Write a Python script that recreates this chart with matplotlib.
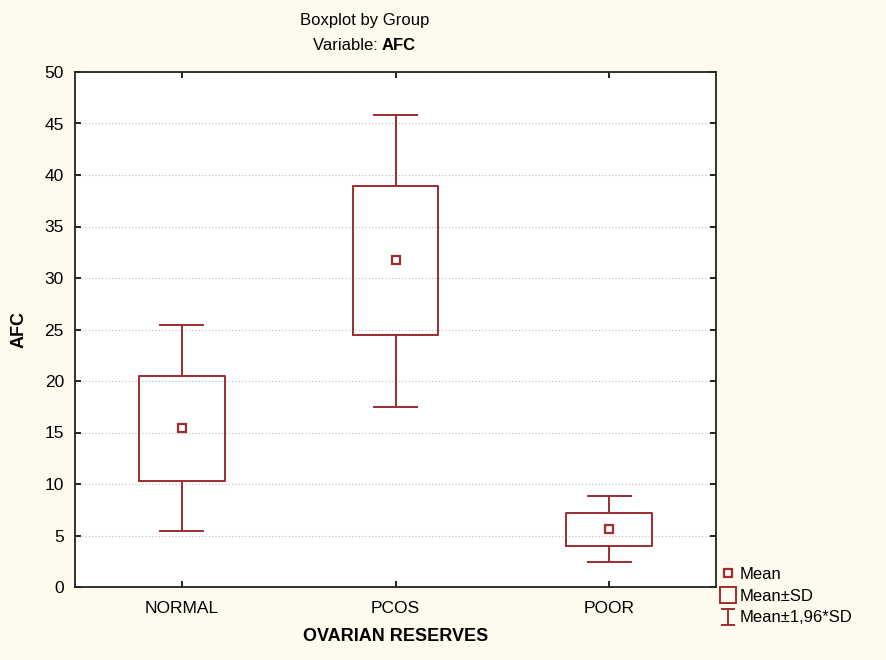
import matplotlib
matplotlib.use("Agg")
import matplotlib.pyplot as plt
from matplotlib.lines import Line2D
from matplotlib.path import Path

plt.rcParams['font.family'] = ['Liberation Sans', 'DejaVu Sans']

groups = ["NORMAL", "PCOS", "POOR"]
means = [15.4, 31.7, 5.6]
sd_low = [10.3, 24.5, 4.0]
sd_high = [20.5, 38.9, 7.2]
ci_low = [5.4, 17.5, 2.4]
ci_high = [25.4, 45.8, 8.8]
yticks = [0, 5, 10, 15, 20, 25, 30, 35, 40, 45, 50]

red = "#9E2B2F"
bg = "#FFFAEE"

fig = plt.figure(figsize=(8.86, 6.6), dpi=100, facecolor=bg)
ax = fig.add_axes([75/886, 1-587/660, (716-75)/886, (587-72)/660])
ax.set_facecolor("white")

stats = []
for g, m, bl, bh, wl, wh in zip(groups, means, sd_low, sd_high, ci_low, ci_high):
    stats.append(dict(label=g, med=m, mean=m, q1=bl, q3=bh, whislo=wl, whishi=wh, fliers=[]))

ax.bxp(stats, positions=[0, 1, 2], widths=0.4, showmeans=True, showfliers=False,
       boxprops=dict(color=red, linewidth=1.4),
       whiskerprops=dict(color=red, linewidth=1.4),
       capprops=dict(color=red, linewidth=1.4),
       medianprops=dict(linestyle='none'),
       meanprops=dict(marker='s', markersize=6, markerfacecolor='none',
                      markeredgecolor=red, markeredgewidth=1.6))

ax.set_xlim(-0.5, 2.5)
ax.set_ylim(0, 50)
ax.set_yticks(yticks)
ax.set_xticks([0, 1, 2])
ax.set_xticklabels(groups)
ax.yaxis.grid(True, linestyle=(0, (1, 2)), color="#BBBBBB", linewidth=0.8)
ax.set_axisbelow(True)
ax.tick_params(direction='in', length=4, width=1.2, top=True, right=True,
               labelsize=12.5, colors='black')
ax.tick_params(axis='y', pad=8)
ax.tick_params(axis='x', pad=10)
for s in ax.spines.values():
    s.set_linewidth(1.3)
    s.set_color("#222222")

ax.set_ylabel("AFC", fontsize=13, fontweight='bold', labelpad=12)
ax.set_xlabel("OVARIAN RESERVES", fontsize=13, fontweight='bold', labelpad=9)

fig.text(365/886, 1-20/660, "Boxplot by Group", ha='center', va='center', fontsize=12)
fig.text(382/886, 1-46/660, "Variable: ", ha='right', va='center', fontsize=12)
fig.text(382/886, 1-46/660, "AFC", ha='left', va='center', fontsize=12, fontweight='bold')

ipath = Path([(-0.8, 1), (0.8, 1), (0, 1), (0, -1), (-0.8, -1), (0.8, -1)],
             [Path.MOVETO, Path.LINETO, Path.MOVETO, Path.LINETO, Path.MOVETO, Path.LINETO])
handles = [
    Line2D([], [], linestyle='none', marker='s', markersize=6, markerfacecolor='none',
           markeredgecolor=red, markeredgewidth=1.6),
    Line2D([], [], linestyle='none', marker='s', markersize=12, markerfacecolor='none',
           markeredgecolor=red, markeredgewidth=1.4),
    Line2D([], [], linestyle='none', marker=ipath, markersize=12, markerfacecolor='none',
           markeredgecolor=red, markeredgewidth=1.4),
]
fig.legend(handles, ["Mean", "Mean±SD", "Mean±1,96*SD"], loc='upper left',
           bbox_to_anchor=(720/886, 1-567/660), frameon=False, fontsize=12,
           handlelength=0.9, handletextpad=0.3, labelspacing=0.4, borderaxespad=0,
           borderpad=0)

fig.savefig("out.png", dpi=100, facecolor=bg)
